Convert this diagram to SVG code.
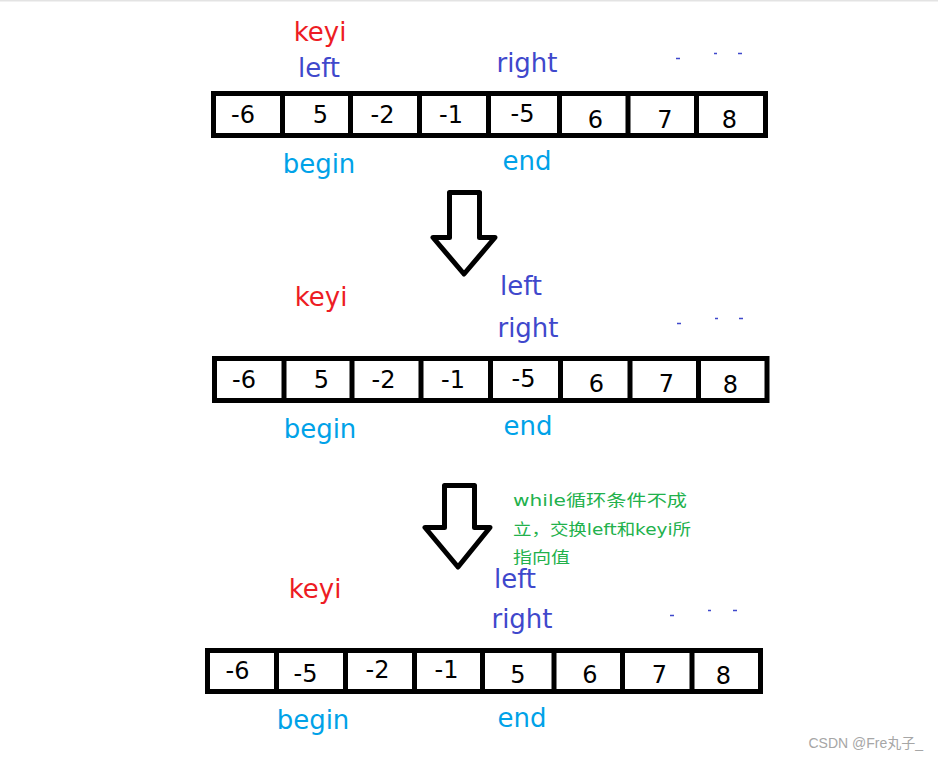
<svg xmlns="http://www.w3.org/2000/svg" width="938" height="760" viewBox="0 0 938 760">
<style>
.box{fill:#fff;stroke:#000;stroke-width:5}
.div{stroke:#000;stroke-width:5}
.num{font-family:"DejaVu Sans","Noto Sans",sans-serif;font-size:24px;fill:#000;text-anchor:middle}
.lbl{font-family:"DejaVu Sans","Noto Sans",sans-serif;font-size:26px;text-anchor:middle}
.red{fill:#ED1C24}
.ind{fill:#3F48CC}
.cyan{fill:#00A2E8}
.note{font-family:"DejaVu Sans","Noto Sans CJK SC",sans-serif;font-size:16px;fill:#22B14C}
.arrow{fill:#fff;stroke:#000;stroke-width:5;stroke-linejoin:round}
.dash{stroke:#3F48CC;stroke-width:1.5}
.wm{font-family:"Liberation Sans","Noto Sans CJK SC",sans-serif;font-size:14px;fill:#a6a6a6;text-anchor:end}
</style>
<rect x="0" y="0" width="938" height="760" fill="#fff"/>
<rect x="0" y="0" width="938" height="1.5" fill="#e3e3e3"/>

<g id="array1">
<rect class="box" x="213.5" y="93.5" width="552" height="42"/>
<path class="div" d="M282.5,93.5V135.5M350.5,93.5V135.5M419.5,93.5V135.5M488.5,93.5V135.5M559.5,93.5V135.5M628,93.5V135.5M696.5,93.5V135.5"/>
<text class="num" x="243" y="123">-6</text>
<text class="num" x="320.5" y="123">5</text>
<text class="num" x="382.5" y="123">-2</text>
<text class="num" x="451" y="123">-1</text>
<text class="num" x="522.5" y="122">-5</text>
<text class="num" x="595.5" y="128">6</text>
<text class="num" x="665" y="128">7</text>
<text class="num" x="729.5" y="128">8</text>
</g>
<g id="labels1">
<text class="lbl red" x="320" y="41">keyi</text>
<text class="lbl ind" x="319" y="77">left</text>
<text class="lbl ind" x="527" y="72">right</text>
<text class="lbl cyan" x="319" y="173">begin</text>
<text class="lbl cyan" x="527" y="170">end</text>
<path class="dash" d="M676,58.5h4M714,53.5h3M738,53.5h4"/>
</g>

<g id="array2">
<rect class="box" x="214.5" y="358.5" width="552.5" height="42"/>
<path class="div" d="M284,358.5V400.5M352,358.5V400.5M421,358.5V400.5M490.5,358.5V400.5M560.5,358.5V400.5M630,358.5V400.5M698.5,358.5V400.5"/>
<text class="num" x="244" y="388">-6</text>
<text class="num" x="321.5" y="388">5</text>
<text class="num" x="383.5" y="388">-2</text>
<text class="num" x="453" y="388">-1</text>
<text class="num" x="523.5" y="387">-5</text>
<text class="num" x="596.5" y="392">6</text>
<text class="num" x="666.5" y="392">7</text>
<text class="num" x="730.5" y="393">8</text>
</g>
<g id="labels2">
<text class="lbl red" x="321" y="306">keyi</text>
<text class="lbl ind" x="521" y="295">left</text>
<text class="lbl ind" x="528" y="337">right</text>
<text class="lbl cyan" x="320" y="438">begin</text>
<text class="lbl cyan" x="528" y="435">end</text>
<path class="dash" d="M677,323.5h4M715,318.5h3M739,318.5h4"/>
</g>

<g id="note">
<text class="note" x="513" y="506" textLength="174" lengthAdjust="spacingAndGlyphs">while循环条件不成</text>
<text class="note" x="513" y="535" textLength="178" lengthAdjust="spacingAndGlyphs">立，交换left和keyi所</text>
<text class="note" x="513" y="563" textLength="57" lengthAdjust="spacingAndGlyphs">指向值</text>
</g>

<g id="array3">
<rect class="box" x="207.5" y="650.5" width="553" height="41"/>
<path class="div" d="M276.5,650.5V691.5M345.5,650.5V691.5M414.5,650.5V691.5M482.5,650.5V691.5M554,650.5V691.5M622.5,650.5V691.5M692,650.5V691.5"/>
<text class="num" x="237.5" y="679">-6</text>
<text class="num" x="305.5" y="682">-5</text>
<text class="num" x="377.5" y="678">-2</text>
<text class="num" x="446.5" y="678">-1</text>
<text class="num" x="518" y="683">5</text>
<text class="num" x="590" y="683">6</text>
<text class="num" x="659.5" y="683">7</text>
<text class="num" x="723.5" y="684">8</text>
</g>
<g id="labels3">
<text class="lbl red" x="315" y="598">keyi</text>
<text class="lbl ind" x="515" y="588">left</text>
<text class="lbl ind" x="522" y="628">right</text>
<text class="lbl cyan" x="313" y="729">begin</text>
<text class="lbl cyan" x="522" y="727">end</text>
<path class="dash" d="M670,615.5h4M708,610.5h3M733,610.5h4"/>
</g>

<g id="connectors">
<path class="arrow" d="M449.5,192.5H479.5V237.5H495L464,274L433,237.5H449.5Z"/>
<path class="arrow" d="M444.5,485.5H474.5V527.5H490L458,567L425,527.5H444.5Z"/>
</g>

<text class="wm" x="923" y="748">CSDN @Fre丸子_</text>
</svg>
